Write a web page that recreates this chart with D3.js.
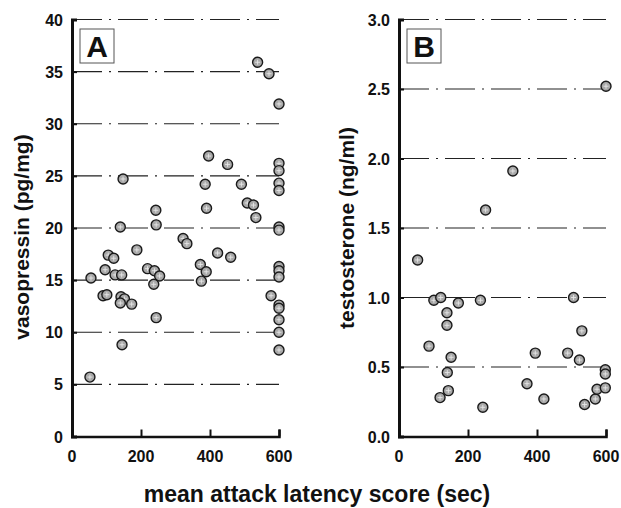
<!DOCTYPE html>
<html>
<head>
<meta charset="utf-8">
<script src="https://cdn.jsdelivr.net/npm/d3@7"></script>
<style>
  body { margin: 0; background: #fff; }
  svg text { font-family: "Liberation Sans", Arial, sans-serif; font-weight: bold; fill: #111; }
</style>
</head>
<body>
<div id="chart"></div>
<script>
// Panel A: latency (sec) vs vasopressin (pg/mg)
const latencyA = [538, 571, 600, 396, 451, 600, 600, 600, 600, 148, 386, 491,
  243, 390, 508, 526, 533, 140, 244, 600, 600, 322, 333, 105, 121, 188, 422, 460,
  372, 389, 375, 96, 125, 144, 55, 219, 239, 254, 237, 600, 600, 600, 90, 101,
  142, 152, 140, 173, 577, 600, 600, 600, 600, 600, 244, 145, 52];
const vasopressin = [35.9, 34.8, 31.9, 26.9, 26.1, 26.2, 25.5, 24.3, 23.6, 24.7, 24.2, 24.2,
  21.7, 21.9, 22.4, 22.2, 21.0, 20.1, 20.3, 20.1, 19.8, 19.0, 18.5, 17.4, 17.1, 17.9, 17.6, 17.2,
  16.5, 15.8, 14.9, 16.0, 15.5, 15.5, 15.2, 16.1, 15.9, 15.4, 14.6, 16.3, 15.9, 15.3, 13.5, 13.6,
  13.4, 13.2, 12.8, 12.7, 13.5, 12.6, 12.3, 11.2, 10.0, 8.3, 11.4, 8.8, 5.7];

// Panel B: latency (sec) vs testosterone (ng/ml)
const latencyB = [600, 330, 251, 54, 101, 121, 172, 236, 506, 139, 139, 87, 151, 140,
  119, 143, 243, 395, 371, 420, 489, 530, 523, 538, 569, 574, 598, 598, 598];
const testosterone = [2.52, 1.91, 1.63, 1.27, 0.98, 1.0, 0.96, 0.98, 1.0, 0.89, 0.80, 0.65, 0.57, 0.46,
  0.28, 0.33, 0.21, 0.60, 0.38, 0.27, 0.60, 0.76, 0.55, 0.23, 0.27, 0.34, 0.48, 0.45, 0.35];

const xTicks = [0, 200, 400, 600];
const yTicksA = [0, 5, 10, 15, 20, 25, 30, 35, 40];
const yTicksB = [0, 0.5, 1.0, 1.5, 2.0, 2.5, 3.0];

const width = 621, height = 508;
const svg = d3.select("#chart").append("svg")
  .attr("width", width).attr("height", height);

function drawPanel(opt) {
  const x = d3.scaleLinear().domain([0, 600]).range([opt.left, opt.right]);
  const y = d3.scaleLinear().domain(opt.yDomain).range([436.5, 19.5]);
  const g = svg.append("g");

  // dash-dot gridlines
  g.selectAll("line.grid").data(opt.yTicks.filter(d => d > 0)).join("line")
    .attr("class", "grid")
    .attr("x1", x(0)).attr("x2", x(600))
    .attr("y1", d => y(d)).attr("y2", d => y(d))
    .style("stroke", "#222").style("stroke-width", 1.2)
    .style("stroke-dasharray", "30,7,2,7");

  // left axis
  const ya = g.append("g").attr("transform", `translate(${x(0)},0)`)
    .call(d3.axisRight(y).tickValues(opt.yTicks).tickSize(5).tickFormat(""));
  ya.select(".domain").attr("stroke-width", 3).attr("stroke", "#111");
  ya.selectAll(".tick line").attr("stroke-width", 2).attr("stroke", "#111");
  g.selectAll("text.ytl").data(opt.yTicks).join("text").attr("class", "ytl")
    .attr("x", x(0) - 9).attr("y", d => y(d) + 6)
    .attr("text-anchor", "end").style("font-size", "16px")
    .text(opt.fmt);

  // bottom axis (ticks point up into the plot)
  const xa = g.append("g").attr("transform", `translate(0,${y(opt.yDomain[0])})`)
    .call(d3.axisTop(x).tickValues(xTicks).tickSize(7).tickFormat(""));
  xa.select(".domain").attr("stroke-width", 2.5).attr("stroke", "#111");
  xa.selectAll(".tick line").attr("stroke-width", 2).attr("stroke", "#111");
  g.selectAll("text.xtl").data(xTicks).join("text").attr("class", "xtl")
    .attr("x", d => x(d)).attr("y", 462)
    .attr("text-anchor", "middle").style("font-size", "16px")
    .text(d => d);

  // y label
  g.append("text")
    .attr("transform", `translate(${opt.labelX},${opt.labelY}) rotate(-90)`)
    .attr("text-anchor", "middle").style("font-size", "21px")
    .text(opt.label);

  // panel letter box
  g.append("rect").attr("x", x(0) + 8).attr("y", 29).attr("width", 34).attr("height", 34)
    .attr("fill", "#fff").attr("stroke", "#555").attr("stroke-width", 1);
  g.append("text").attr("x", x(0) + 25).attr("y", 57).attr("text-anchor", "middle")
    .style("font-size", "30px").text(opt.letter);

  // points
  const pts = g.selectAll("g.pt").data(opt.xs.map((v, i) => [v, opt.ys[i]])).join("g")
    .attr("class", "pt")
    .attr("transform", d => `translate(${x(d[0])},${y(d[1])})`);
  pts.append("circle").attr("r", 5)
    .attr("fill", "#a8a8a8").attr("stroke", "#1a1a1a").attr("stroke-width", 1.4);
  pts.append("path").attr("d", "M-2.5,0H2.5M0,-2.5V2.5")
    .attr("stroke", "#e8e8e8").attr("stroke-width", 0.9);
}

drawPanel({
  left: 72, right: 279, yDomain: [0, 40], yTicks: yTicksA,
  xs: latencyA, ys: vasopressin, fmt: d => d,
  label: "vasopressin (pg/mg)", labelX: 29, labelY: 237, letter: "A"
});
drawPanel({
  left: 399, right: 606, yDomain: [0, 3], yTicks: yTicksB,
  xs: latencyB, ys: testosterone, fmt: d3.format(".1f"),
  label: "testosterone (ng/ml)", labelX: 354, labelY: 228, letter: "B"
});

svg.append("text").attr("x", 317).attr("y", 502)
  .attr("text-anchor", "middle").style("font-size", "23px")
  .text("mean attack latency score (sec)");
</script>
</body>
</html>
